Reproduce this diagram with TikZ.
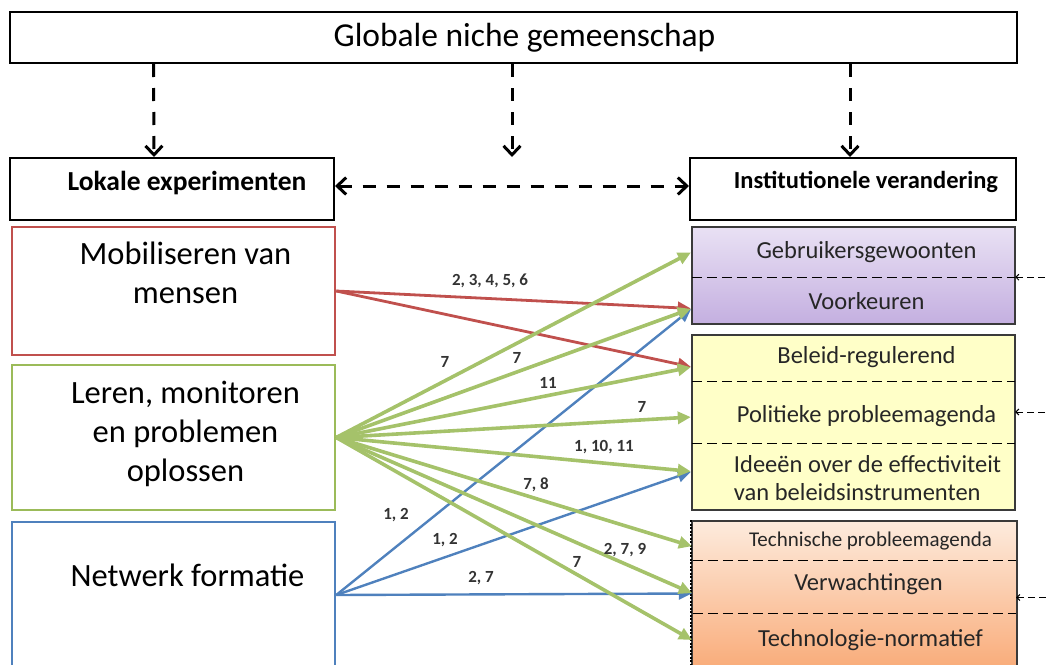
\documentclass[tikz,border=0pt]{standalone}
\usepackage{fontspec}
\setmainfont{Carlito}
\usetikzlibrary{arrows.meta,positioning}

\definecolor{rood}{HTML}{C0504D}
\definecolor{groen}{HTML}{9BBB59}
\definecolor{blauw}{HTML}{4F81BD}
\definecolor{lilaboven}{HTML}{E9E1F4}
\definecolor{lilaonder}{HTML}{C4AFE0}
\definecolor{geel}{HTML}{FFFFC8}
\definecolor{oranjeboven}{HTML}{FDEBDD}
\definecolor{oranjeonder}{HTML}{F9AC7A}
\definecolor{rand}{HTML}{3A3A3A}

\begin{document}
\begin{tikzpicture}[x=1pt,y=-1pt,
    kader/.style={draw,line width=2pt,inner sep=0pt},
    blok/.style={draw,line width=2.5pt,inner sep=0pt,minimum width=323pt},
    vak/.style={draw=rand,line width=1.5pt,inner sep=0pt,minimum width=323pt},
    rij/.style={inner sep=0pt,minimum width=323pt},
    linkst/.style={align=center,font=\fontsize{32.5}{39}\selectfont},
    rechtst/.style={font=\fontsize{24.5}{28}\selectfont,text=black!85},
    getal/.style={font=\fontsize{17}{20}\selectfont\bfseries,text=black!80},
    stip/.style={line width=3pt,dash pattern=on 13pt off 11pt,
      -{Straight Barb[length=9pt,width=17pt]}},
    scheid/.style={line width=1.2pt,dash pattern=on 10pt off 5pt},
    klein/.style={line width=1pt,dash pattern=on 7pt off 4pt,
      -{Straight Barb[length=3pt,width=6pt]}},
    pijl/.style={draw,shorten >=1pt,-{Triangle[length=13pt,width=12pt]}},
    roodpijl/.style={pijl,line width=2.8pt,draw=rood,fill=rood},
    groenpijl/.style={pijl,line width=3.6pt,draw=groen!90!white,fill=groen},
    blauwpijl/.style={pijl,line width=2.4pt,draw=blauw,fill=blauw}]

\useasboundingbox (0,0) rectangle (1046,664);

% bovenste laag
\node[kader,minimum width=1007pt,minimum height=51pt,
  label={[font=\fontsize{33.5}{38}\selectfont,xshift=11pt]center:Globale niche gemeenschap}] (glob) at (513.5,37.5) {};
\node[kader,minimum width=324pt,minimum height=62pt,
  label={[font=\fontsize{27.5}{30}\selectfont\bfseries,xshift=15pt,yshift=6pt]center:Lokale experimenten}] (lokaal) at (172,189) {};
\node[kader,minimum width=326pt,minimum height=62pt,
  label={[font=\fontsize{24.5}{30}\selectfont\bfseries,xshift=13pt,yshift=7pt]center:Institutionele verandering}] (instit) at (853,189) {};

% linker blokken
\node[blok,draw=rood,minimum height=128pt,
  label={[linkst,xshift=12pt,yshift=18pt]center:Mobiliseren van\\mensen}] (mob) at (173.5,291) {};
\node[blok,draw=groen,minimum height=145pt,
  label={[linkst,xshift=12pt,yshift=4pt]center:Leren, monitoren\\en problemen\\oplossen}] (leer) at (173.5,437.5) {};
\node[blok,draw=blauw,minimum height=146pt,
  label={[linkst,xshift=14pt,yshift=20pt]center:Netwerk formatie}] (netw) at (173.5,595) {};

% rechter vakken
\node[vak,top color=lilaboven,bottom color=lilaonder,minimum height=97pt] (lila) at (853.5,275.5) {};
\node[vak,fill=geel,minimum height=175pt] (geelvak) at (853.5,422.5) {};
\node[vak,top color=oranjeboven,bottom color=oranjeonder,minimum width=325pt,minimum height=147pt] (oranje) at (854.5,594.5) {};
\draw[line width=2pt,dash pattern=on 2pt off 1.5pt] (oranje.north west) -- (oranje.south west);

\node[rij,minimum height=50pt,label={[rechtst,xshift=13pt]center:Gebruikersgewoonten}] (gebr) at (853.5,252) {};
\node[rij,minimum height=47pt,label={[rechtst,xshift=13pt,yshift=-1pt]center:Voorkeuren}] (voork) at (853.5,300.5) {};
\node[rij,minimum height=46pt,label={[rechtst,xshift=13pt,yshift=1pt]center:Beleid-regulerend}] (beleid) at (853.5,358) {};
\node[rij,minimum height=62pt,label={[rechtst,xshift=13pt,yshift=-4pt]center:Politieke probleemagenda}] (polit) at (853.5,412) {};
\node[rij,minimum height=67pt,label={[rechtst,align=left,xshift=14pt,yshift=-2pt]center:Ideeën over de effectiviteit\\van beleidsinstrumenten}] (ideeen) at (853.5,476.5) {};
\node[rij,minimum height=39pt,label={[rechtst,font=\fontsize{21}{24}\selectfont,xshift=16pt,yshift=-1pt]center:Technische probleemagenda}] (techn) at (854.5,540.5) {};
\node[rij,minimum height=53pt,label={[rechtst,xshift=14pt,yshift=2pt]center:Verwachtingen}] (verw) at (854.5,586.5) {};
\node[rij,minimum height=55pt,label={[rechtst,xshift=16pt]center:Technologie-normatief}] (techno) at (854.5,640.5) {};

\foreach \r in {gebr,beleid,polit,techn,verw}
  \draw[scheid] (\r.south west) -- (\r.south east);

% stippelpijlen
\coordinate (midden) at (512,157);
\draw[stip] ([xshift=-360pt]glob.south) -- ([xshift=-18pt]lokaal.north);
\draw[stip] ([xshift=-1.5pt]glob.south) -- (midden);
\draw[stip] ([xshift=336.5pt]glob.south) -- ([xshift=-3pt]instit.north);
\draw[stip,{Straight Barb[length=9pt,width=17pt]}-{Straight Barb[length=9pt,width=17pt]}]
  ([yshift=3pt]lokaal.east) -- ([yshift=3pt]instit.west);

\coordinate[right=30pt of gebr.south east] (k1);
\coordinate[right=30pt of polit.east] (k2);
\coordinate[right=30pt of verw.east,yshift=-11pt] (k3);
\draw[klein] (k1) -- (gebr.south east);
\draw[klein] (k2) -- (polit.east);
\draw[klein] (k3) -- ([yshift=-11pt]verw.east);

% verbindingen
\path (netw.east) edge[blauwpijl] ([yshift=-8pt]voork.west)
      (netw.east) edge[blauwpijl] ([yshift=5pt]ideeen.west)
      (netw.east) edge[blauwpijl] ([yshift=-7pt]verw.west);
\path (mob.east) edge[roodpijl] ([yshift=-8pt]voork.west)
      (mob.east) edge[roodpijl] ([yshift=-9pt]beleid.west);
\path (leer.east) edge[groenpijl] (gebr.west)
      (leer.east) edge[groenpijl] ([yshift=-8pt]voork.west)
      (leer.east) edge[groenpijl] ([yshift=-9pt]beleid.west)
      (leer.east) edge[groenpijl] ([yshift=-5pt]polit.west)
      (leer.east) edge[groenpijl] ([yshift=5pt]ideeen.west)
      (leer.east) edge[groenpijl] ([yshift=-6pt]techn.west)
      (leer.east) edge[groenpijl] ([yshift=-7pt]verw.west)
      (leer.east) edge[groenpijl] (techno.west);

% getallen
\node[getal] (g1) at (490,281) {2, 3, 4, 5, 6};
\node[getal] (g2) at (445,362) {7};
\node[getal] (g3) at (517,358) {7};
\node[getal] (g4) at (548,383) {11};
\node[getal] (g5) at (642,407) {7};
\node[getal] (g6) at (604,447) {1, 10, 11};
\node[getal] (g7) at (536,485) {7, 8};
\node[getal] (g8) at (625,550) {2, 7, 9};
\node[getal] (g9) at (577,562) {7};
\node[getal] (g10) at (396,515) {1, 2};
\node[getal] (g11) at (445,540) {1, 2};
\node[getal] (g12) at (481,578) {2, 7};
\end{tikzpicture}
\end{document}
